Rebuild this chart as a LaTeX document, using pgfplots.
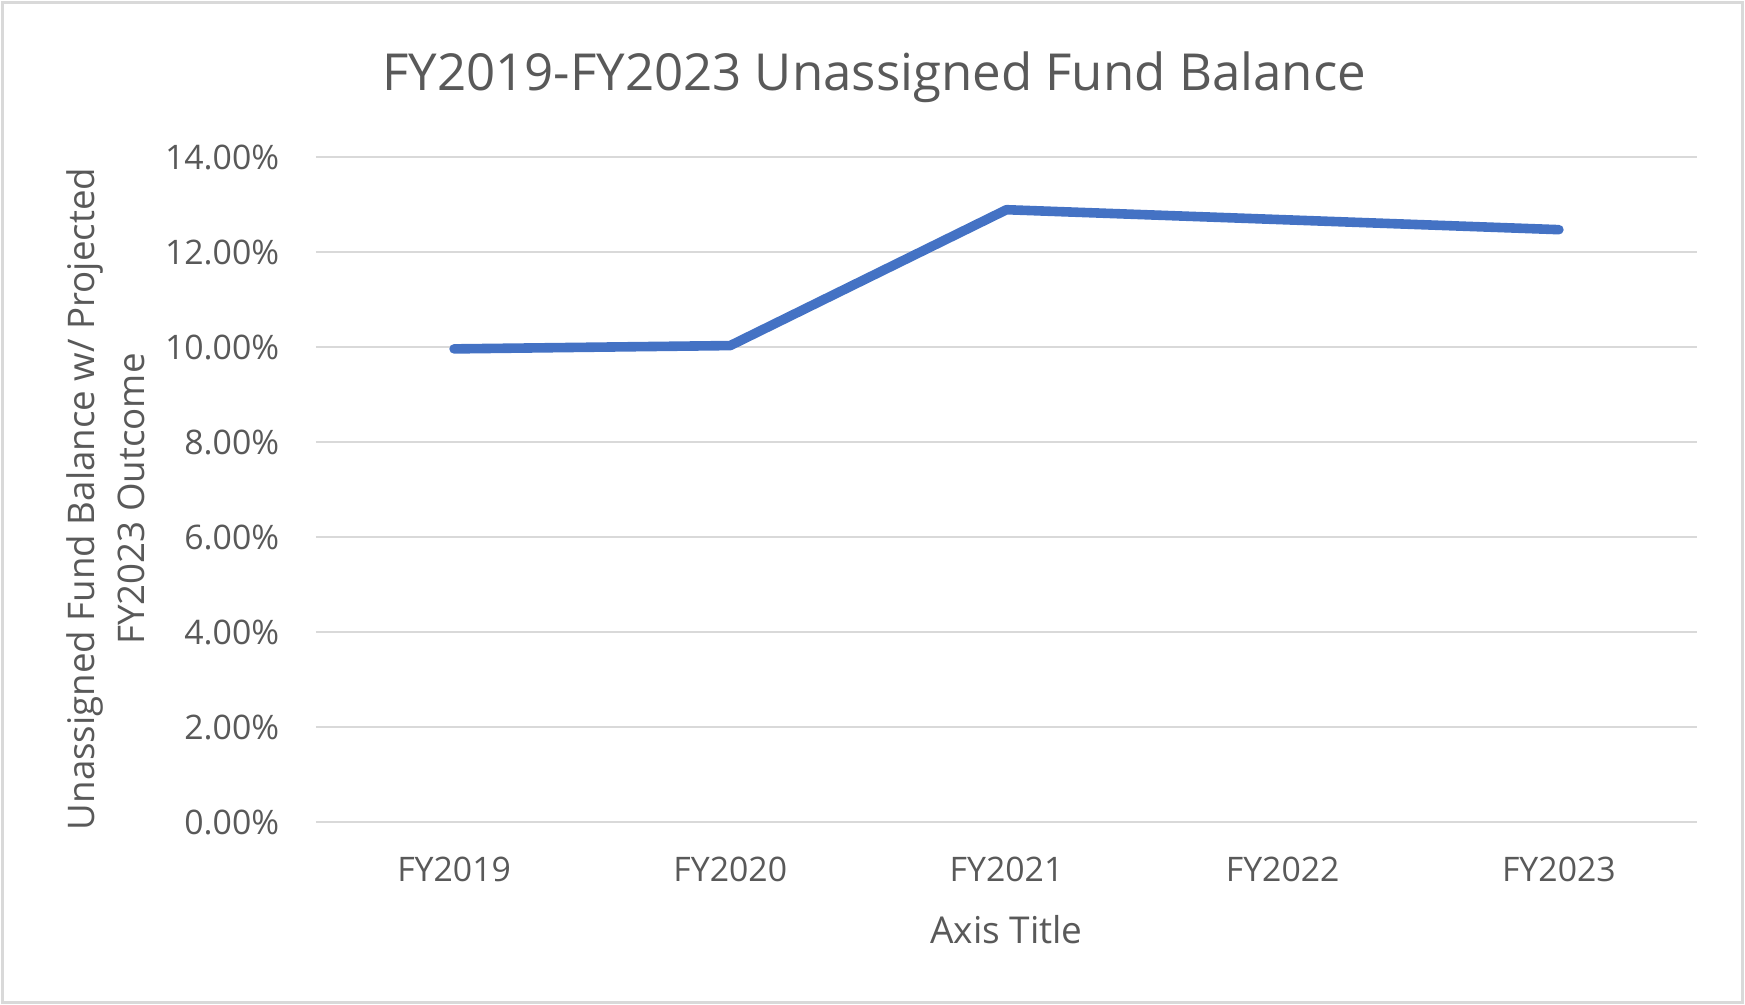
\documentclass[border=0pt]{standalone}
\usepackage{pgfplots}
\pgfplotsset{compat=1.18}
\usepackage{fontspec}
\setmainfont{Open Sans}
\definecolor{txt}{HTML}{595959}
\definecolor{gridc}{HTML}{D9D9D9}
\definecolor{ser}{HTML}{4472C4}
\begin{document}
\begin{tikzpicture}
\useasboundingbox (-79pt,-45.75pt) rectangle (357.25pt,205.5pt);
\draw[gridc, line width=0.75pt] (-78.4pt,-45.1pt) rectangle (356.6pt,204.9pt);
\begin{axis}[
  at={(0,0)}, anchor=south west,
  scale only axis, width=345.25pt, height=166.25pt,
  xmin=-0.5, xmax=4.5, ymin=0, ymax=14,
  xtick={0,1,2,3,4},
  xticklabels={FY2019,FY2020,FY2021,FY2022,FY2023},
  ytick={0,2,4,6,8,10,12,14},
  yticklabel={\pgfmathprintnumber[fixed,fixed zerofill,precision=2]{\tick}\%},
  /pgf/number format/assume math mode=true,
  axis line style={draw=none},
  major tick length=0pt,
  xmajorgrids=false, ymajorgrids=true,
  major grid style={draw=gridc, line width=0.6pt},
  ticklabel style={font=\fontsize{8.45}{10}\selectfont, text=txt},
  yticklabel style={anchor=east, inner sep=0pt, xshift=-9pt},
  xticklabel style={anchor=base, inner sep=0pt, yshift=-14.8pt},
  clip=false,
]
\addplot[ser, line width=2.4pt, line join=round, line cap=round] coordinates {
(0,9.96) (1,10.03) (2,12.89) (3,12.68) (4,12.47)
};
\end{axis}
\node[anchor=base, text=txt, font=\fontsize{9.25}{11}\selectfont, inner sep=0pt] at (172.6pt,-30.4pt) {Axis Title};
\node[anchor=base, text=txt, font=\fontsize{12.75}{15}\selectfont, inner sep=0pt] at (139.5pt,182.75pt) {FY2019-FY2023 Unassigned Fund Balance};
\node[rotate=90, text=txt, font=\fontsize{9.17}{12.5}\selectfont, align=center, inner sep=0pt] at (-52.5pt,80.75pt) {Unassigned Fund Balance w/ Projected\\FY2023 Outcome};
\end{tikzpicture}
\end{document}
